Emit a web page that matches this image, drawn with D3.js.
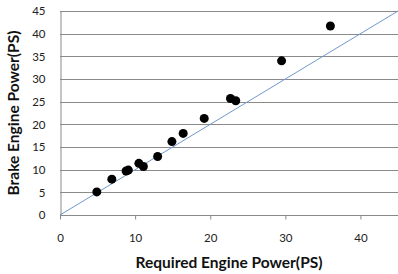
<!DOCTYPE html>
<html>
<head>
<meta charset="utf-8">
<script src="https://cdn.jsdelivr.net/npm/d3@7"></script>
<style>
  body { margin: 0; background: #fff; }
  svg { display: block; }
  .tick text { font-family: Lato, "Open Sans", sans-serif; font-size: 11.5px; fill: #222; }
  .title { font-family: Lato, "Open Sans", sans-serif; font-size: 15.5px; font-weight: bold; fill: #111; }
</style>
</head>
<body>
<div id="chart"></div>
<script>
// required engine power (x) vs brake engine power (y)
const required = [4.9, 6.9, 8.8, 9.1, 10.5, 11.1, 13.0, 14.9, 16.4, 19.2, 22.7, 23.4, 29.5, 36.0];
const brake    = [5.1, 7.9, 9.7, 9.9, 11.4, 10.7, 12.9, 16.2, 18.0, 21.3, 25.7, 25.2, 34.0, 41.7];
const xTicks = [0, 10, 20, 30, 40];
const yTicks = [0, 5, 10, 15, 20, 25, 30, 35, 40, 45];
const refLine = [0, 45]; // y = x

const width = 398, height = 274;
const margin = { top: 11, right: 0, bottom: 59, left: 60 };

const svg = d3.select('#chart')
  .append('svg')
  .attr('width', width)
  .attr('height', height);

const x = d3.scaleLinear()
  .domain([0, 45])
  .range([margin.left, width - margin.right]);
const y = d3.scaleLinear()
  .domain([0, 45])
  .range([height - margin.bottom, margin.top]);

// gridlines
svg.append('g')
  .selectAll('line')
  .data(yTicks)
  .join('line')
  .attr('x1', x(0))
  .attr('x2', x(45))
  .attr('y1', d => Math.round(y(d)) + 0.5)
  .attr('y2', d => Math.round(y(d)) + 0.5)
  .attr('stroke', '#8a8a8a')
  .attr('stroke-width', 1);

// y axis
const yAxis = svg.append('g')
  .attr('transform', `translate(${x(0) + 0.5},0)`)
  .call(d3.axisLeft(y).tickValues(yTicks).tickSize(0).tickPadding(15));
yAxis.select('.domain').attr('stroke', '#8a8a8a');

// x axis
const xAxis = svg.append('g')
  .attr('transform', `translate(0,${Math.round(y(0)) + 0.5})`)
  .call(d3.axisBottom(x).tickValues(xTicks).tickSize(4).tickPadding(14));
xAxis.select('.domain').remove();
xAxis.selectAll('.tick line').attr('stroke', '#8a8a8a');

// y = x reference line
svg.append('line')
  .attr('x1', x(refLine[0]))
  .attr('y1', y(refLine[0]))
  .attr('x2', x(refLine[1]))
  .attr('y2', y(refLine[1]))
  .attr('stroke', '#6f98cc')
  .attr('stroke-width', 1);

// points
svg.append('g')
  .selectAll('circle')
  .data(required.map((r, i) => [r, brake[i]]))
  .join('circle')
  .attr('cx', d => x(d[0]))
  .attr('cy', d => y(d[1]))
  .attr('r', 4.5)
  .attr('fill', '#000');

// axis titles
svg.append('text')
  .attr('class', 'title')
  .attr('x', 229)
  .attr('y', 268)
  .attr('text-anchor', 'middle')
  .text('Required Engine Power(PS)');

svg.append('text')
  .attr('class', 'title')
  .attr('transform', `translate(19, 113) rotate(-90)`)
  .attr('text-anchor', 'middle')
  .text('Brake Engine Power(PS)');
</script>
</body>
</html>
